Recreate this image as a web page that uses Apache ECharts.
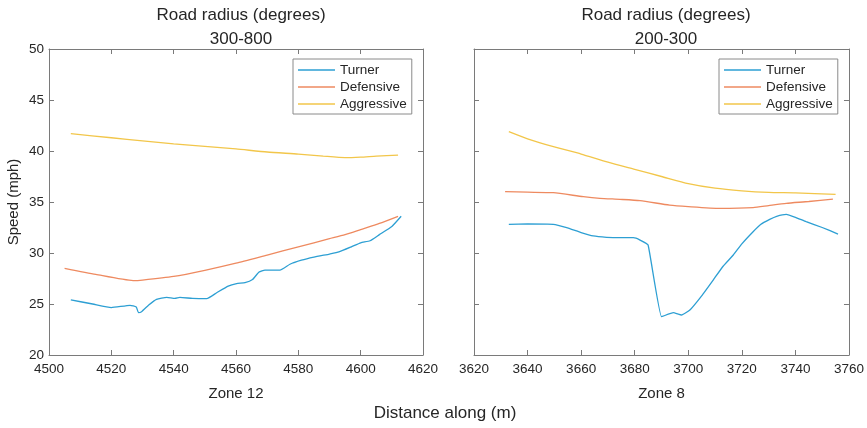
<!DOCTYPE html>
<html>
<head>
<meta charset="utf-8">
<script src="https://cdn.jsdelivr.net/npm/echarts@6/dist/echarts.min.js"></script>
<style>
html,body{margin:0;padding:0;background:#fff;}
#chartmain{width:867px;height:428px;}
</style>
</head>
<body>
<div id="chartmain"></div>
<script>
// zone 12 (left panel)
var turnerLeftX=[4507,4514,4520,4526,4528,4528.7,4529.7,4532,4534.5,4537.8,4540.4,4542,4546,4550.6,4553.8,4557.5,4560.2,4562.9,4565.3,4567.4,4569.3,4574.1,4577.3,4581,4585,4590,4593,4597,4600,4603,4606,4610,4613];
var turnerLeftY=[25.4,25.0,24.65,24.87,24.7,24.15,24.25,24.9,25.46,25.65,25.55,25.65,25.55,25.52,26.1,26.76,27.0,27.09,27.4,28.14,28.33,28.33,28.9,29.3,29.6,29.9,30.1,30.6,31.0,31.2,31.8,32.6,33.6];
var defLeftX=[4505,4515,4527,4530,4540,4550,4560,4570,4580,4590,4595,4600,4606,4612];
var defLeftY=[28.5,27.9,27.3,27.35,27.7,28.3,29.0,29.8,30.6,31.4,31.8,32.3,32.9,33.6];
var aggLeftX=[4507,4520,4530,4540,4550,4560,4570,4580,4588,4595,4600,4605,4612];
var aggLeftY=[41.7,41.3,41.0,40.7,40.45,40.2,39.9,39.7,39.5,39.35,39.4,39.5,39.6];

// zone 8 (right panel)
var turnerRightX=[3633,3640,3649.6,3654.6,3660,3664.5,3669.5,3674.5,3679.5,3682,3685,3690,3694.4,3697.5,3700.6,3705,3709.3,3713,3716.8,3720,3724.2,3727,3730.4,3733,3736.6,3740,3744,3750,3755.9];
var turnerRightY=[32.81,32.85,32.81,32.48,32.0,31.67,31.54,31.5,31.5,31.27,30.78,23.76,24.15,23.92,24.41,25.8,27.35,28.7,29.8,30.9,32.09,32.8,33.3,33.6,33.79,33.5,33.07,32.5,31.86];
var defRightX=[3631.6,3640,3649.6,3660.8,3667,3674.5,3682,3693,3700,3711.8,3724.2,3730,3736.6,3745,3754];
var defRightY=[36.01,35.96,35.91,35.52,35.36,35.26,35.13,34.7,34.55,34.38,34.45,34.65,34.87,35.05,35.29];
var aggRightX=[3633,3640,3650,3660,3670,3680,3690,3700,3710,3720,3730,3740,3755];
var aggRightY=[41.9,41.2,40.4,39.7,38.9,38.2,37.5,36.8,36.35,36.1,35.95,35.9,35.75];

var seriesNames=['Turner','Defensive','Aggressive'];
var seriesColors=['#2d9fd3','#ee8a60','#f2c64a'];
var leftXTicks={min:4500,max:4620,interval:20};
var rightXTicks={min:3620,max:3760,interval:20};
var yTicks={min:20,max:50,interval:5};

function pairs(xs,ys){
	var out=[];
	for(var i=0;i<xs.length;i++) out.push([xs[i],ys[i]]);
	return out;
}

var font='"Liberation Sans", Arial, Helvetica, sans-serif';
var axisColor='#7a7a7a';
var textColor='#262626';

function xAx(grid,t,pos,zone){
	var a={
		type:'value',gridIndex:grid,position:pos,
		min:t.min,max:t.max,interval:t.interval,
		axisLine:{show:true,onZero:false,lineStyle:{color:axisColor,width:1}},
		axisTick:{show:true,inside:true,length:5,lineStyle:{color:axisColor}},
		splitLine:{show:false},
		axisLabel:{show:pos=='bottom',color:textColor,fontFamily:font,fontSize:13.5,margin:7,
			showMinLabel:true,showMaxLabel:true,formatter:function(v){return ''+v;}}
	};
	if(zone){
		a.name=zone;a.nameLocation='middle';a.nameGap=31;
		a.nameTextStyle={color:textColor,fontFamily:font,fontSize:15};
	}
	return a;
}
function yAx(grid,pos,labels){
	var a={
		type:'value',gridIndex:grid,position:pos,
		min:yTicks.min,max:yTicks.max,interval:yTicks.interval,
		axisLine:{show:true,onZero:false,lineStyle:{color:axisColor,width:1}},
		axisTick:{show:true,inside:true,length:5,lineStyle:{color:axisColor}},
		splitLine:{show:false},
		axisLabel:{show:labels,color:textColor,fontFamily:font,fontSize:13.5,margin:5}
	};
	if(labels){
		a.name='Speed (mph)';a.nameLocation='middle';a.nameGap=28;
		a.nameTextStyle={color:textColor,fontFamily:font,fontSize:15};
	}
	return a;
}
function line(name,color,xi,yi,xs,ys,sm){
	return {
		name:name,type:'line',xAxisIndex:xi,yAxisIndex:yi,
		data:pairs(xs,ys),showSymbol:false,smooth:sm,
		lineStyle:{color:color,width:1.3},itemStyle:{color:color},
		animation:false
	};
}
function legend(left){
	return {
		data:seriesNames,orient:'vertical',left:left,top:59,
		icon:'rect',itemWidth:37,itemHeight:1.5,itemGap:3,
		padding:[4,5,3,5],borderColor:'#8a8a8a',borderWidth:1,
		selectedMode:false,
		textStyle:{color:textColor,fontFamily:font,fontSize:13.5,padding:[0,0,0,0]}
	};
}

var myChart=echarts.init(document.getElementById('chartmain'),null,{renderer:'canvas'});
var option={
	backgroundColor:'#fff',
	animation:false,
	title:[
		{text:'Road radius (degrees)\n300-800',left:236,top:-2,textAlign:'center',
			textStyle:{color:textColor,fontFamily:font,fontSize:17,fontWeight:'normal',lineHeight:24}},
		{text:'Road radius (degrees)\n200-300',left:661,top:-2,textAlign:'center',
			textStyle:{color:textColor,fontFamily:font,fontSize:17,fontWeight:'normal',lineHeight:24}},
		{text:'Distance along (m)',left:440,top:400,textAlign:'center',
			textStyle:{color:textColor,fontFamily:font,fontSize:17,fontWeight:'normal'}}
	],
	legend:[legend(293),legend(719)],
	grid:[
		{left:49,top:49,width:374,height:306},
		{left:474,top:49,width:375,height:306}
	],
	xAxis:[
		xAx(0,leftXTicks,'bottom','Zone 12'),
		xAx(1,rightXTicks,'bottom','Zone 8'),
		xAx(0,leftXTicks,'top'),
		xAx(1,rightXTicks,'top')
	],
	yAxis:[
		yAx(0,'left',true),
		yAx(1,'left',false),
		yAx(0,'right',false),
		yAx(1,'right',false)
	],
	series:[
		line(seriesNames[0],seriesColors[0],0,0,turnerLeftX,turnerLeftY,0.15),
		line(seriesNames[1],seriesColors[1],0,0,defLeftX,defLeftY,0.2),
		line(seriesNames[2],seriesColors[2],0,0,aggLeftX,aggLeftY,0.2),
		line(seriesNames[0],seriesColors[0],1,1,turnerRightX,turnerRightY,0.1),
		line(seriesNames[1],seriesColors[1],1,1,defRightX,defRightY,0.2),
		line(seriesNames[2],seriesColors[2],1,1,aggRightX,aggRightY,0.2)
	]
};
myChart.setOption(option);
</script>
</body>
</html>
